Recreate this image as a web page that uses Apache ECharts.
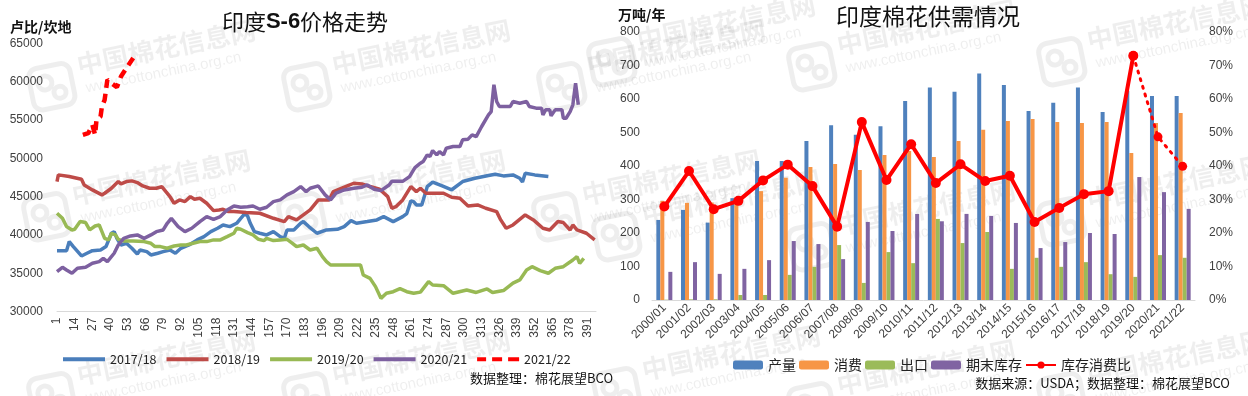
<!DOCTYPE html>
<html><head><meta charset="utf-8">
<script src="https://cdn.jsdelivr.net/npm/echarts@6/dist/echarts.min.js"></script>
<style>html,body{margin:0;padding:0;background:#fff}#c{width:1248px;height:396px}</style>
</head><body><div id="c"></div>
<script>
// ---------- left chart: India S-6 price (rupee/candy), [trading day, price] ----------
const dayCount = 397;
const days = Array.from({length: dayCount}, (_, i) => String(i + 1));
const s2017_18 = [[1,37960],[8,37960],[10,39140],[13,38490],[19,37270],[23,37620],[27,37960],[33,38050],[37,38490],[41,40230],[43,40440],[45,39570],[48,38700],[52,38920],[56,38270],[60,37530],[62,38050],[67,37830],[70,37400],[75,37620],[79,37830],[84,38050],[88,37620],[92,38270],[98,38700],[104,39360],[109,39790],[114,40440],[119,40880],[123,41310],[128,41100],[133,41530],[136,42180],[139,42800],[141,42500],[143,41530],[146,40440],[150,40230],[155,40010],[160,40440],[165,39790],[168,39570],[170,40660],[175,40660],[180,41530],[182,41750],[186,41100],[192,40230],[199,40660],[207,40750],[212,41100],[217,41880],[221,41530],[229,41750],[236,41970],[241,42400],[248,41750],[255,42400],[258,42800],[261,44450],[263,44360],[265,43920],[269,43920],[273,46300],[277,46900],[284,46400],[291,45900],[299,46970],[308,47400],[318,47750],[323,47920],[329,47710],[336,47840],[341,47400],[343,46900],[345,48060],[352,47840],[362,47620]];
const s2018_19 = [[1,46970],[2,47840],[10,47620],[19,47270],[21,46530],[27,45880],[34,45230],[36,45450],[41,46100],[46,46970],[48,46660],[52,46970],[56,47060],[60,46840],[64,46400],[69,46100],[74,46100],[78,46320],[81,45660],[84,45010],[87,44140],[91,44580],[95,44360],[99,45010],[102,44660],[106,44790],[111,44140],[116,43180],[120,43270],[123,43360],[127,43060],[131,43060],[140,42950],[150,42840],[160,42180],[168,41750],[171,42400],[177,41970],[187,43270],[193,44580],[201,44580],[204,45660],[213,46320],[219,46750],[225,46660],[231,46320],[238,45970],[244,45010],[247,43490],[250,43700],[255,44580],[261,46320],[265,45660],[268,46100],[272,45450],[285,45450],[291,44930],[297,44790],[303,43790],[310,43920],[316,43490],[324,43050],[327,41970],[331,40880],[336,41310],[345,42620],[351,41970],[358,40880],[363,40660],[369,41750],[373,41620],[378,40660],[380,41310],[383,40660],[390,40230],[396,39360]];
const s2019_20 = [[1,42840],[5,42180],[8,41100],[12,40660],[14,40750],[18,41750],[22,41620],[25,40660],[29,41180],[32,41310],[34,40440],[36,39570],[39,39360],[41,40230],[44,40010],[46,39440],[50,39230],[57,39230],[65,39140],[70,38920],[73,38490],[77,38490],[82,38270],[87,38570],[92,38700],[96,38700],[101,38920],[106,39140],[111,39140],[116,39360],[121,39360],[126,39790],[131,40230],[133,40880],[136,40750],[141,40310],[145,40010],[149,39440],[153,39270],[155,39570],[160,39270],[165,39360],[170,39440],[174,38920],[177,38490],[182,38700],[187,38050],[192,38270],[196,37180],[199,36530],[202,36090],[224,36090],[226,34790],[231,34350],[235,33270],[239,31740],[243,32400],[248,32610],[253,33000],[258,32610],[263,32400],[268,32550],[274,33920],[277,33480],[285,33390],[292,32400],[302,32830],[309,32510],[317,32970],[321,32510],[329,32760],[336,33720],[341,34140],[346,35440],[350,35870],[356,35350],[362,35010],[367,35660],[373,35870],[380,36740],[383,37180],[385,36310],[388,36960]];
const s2020_21 = [[1,35230],[5,35790],[8,35440],[12,35010],[16,35660],[22,35790],[27,36310],[32,36530],[35,36960],[38,36530],[43,37620],[46,38700],[50,39570],[55,39880],[60,40010],[65,39570],[70,40010],[74,40440],[79,40660],[82,41530],[85,42180],[90,41100],[95,40440],[100,40880],[106,41750],[111,42400],[116,42050],[121,42400],[126,43270],[131,43790],[136,43620],[141,43700],[145,43790],[150,43360],[155,43620],[160,44360],[165,44580],[170,45230],[175,45660],[180,46320],[184,45660],[187,46100],[193,46400],[198,45230],[202,44580],[206,45450],[212,45880],[219,46100],[225,46230],[229,46530],[234,45970],[239,45790],[245,46530],[247,47000],[255,47000],[260,47620],[264,48800],[268,49360],[270,49580],[273,50450],[275,50230],[277,51010],[280,50450],[282,50880],[285,50450],[287,51320],[292,51540],[297,51540],[299,52410],[303,52500],[306,53060],[309,52840],[313,54150],[318,55670],[320,56100],[322,59590],[324,57410],[326,56760],[334,56760],[336,57410],[341,57190],[346,57410],[348,56760],[353,56540],[357,56540],[358,55670],[360,56320],[363,56320],[364,55540],[367,56320],[372,56320],[373,55230],[375,55230],[378,56100],[380,56980],[382,59800],[384,56980]];
const s2021_22 = [[20,53060],[24,53280],[27,54360],[29,53060],[30,55020],[33,55450],[34,56750],[36,57630],[38,60240],[41,59800],[45,59280],[48,60670],[52,61760],[57,63070]];
const priceTicks = {min: 30000, max: 65000, step: 5000};

// ---------- right chart: India cotton supply & demand (10k tonnes / year) ----------
const seasons = ['2000/01','2001/02','2002/03','2003/04','2004/05','2005/06','2006/07','2007/08','2008/09','2009/10','2010/11','2011/12','2012/13','2013/14','2014/15','2015/16','2016/17','2017/18','2018/19','2019/20','2020/21','2021/22'];
const production  = [239,269,231,304,415,415,475,522,493,519,594,634,622,676,642,564,589,634,561,625,609,609];
const consumption = [296,290,291,295,325,365,397,406,388,433,445,427,475,508,534,540,531,528,531,439,528,558];
const exports_    = [1,2,2,15,15,75,99,164,51,143,110,242,170,203,93,126,99,113,77,69,134,126];
const endStock    = [84,113,78,93,119,176,167,122,233,206,257,235,257,251,230,155,173,200,197,367,322,272];
const stockRatio  = [27.9,38.5,27.1,29.6,35.7,40.4,34.0,21.9,53.1,35.8,46.5,34.9,40.5,35.5,37.1,23.3,27.5,31.6,32.5,72.9,48.7,39.9];
const forecastFrom = 19; // index of 2019/20: dotted afterwards

const cjk = '"Noto Sans CJK SC", sans-serif';
const toPts = arr => arr.map(p => [String(p[0]), p[1]]);

function watermark(x, y) {
  const c = 'rgba(0,0,0,0.065)';
  return {
    type: 'group', x: x, y: y, rotation: 0.2, silent: true, z: 0,
    children: [
      {type: 'rect', shape: {x: -50, y: -20, width: 42, height: 42, r: 9}, style: {fill: 'none', stroke: c, lineWidth: 5}},
      {type: 'circle', shape: {cx: -35, cy: -4, r: 7}, style: {fill: 'none', stroke: c, lineWidth: 5}},
      {type: 'circle', shape: {cx: -22, cy: 8, r: 6}, style: {fill: 'none', stroke: c, lineWidth: 5}},
      {type: 'text', style: {text: '中国棉花信息网', x: 0, y: -2, fontSize: 26, fontWeight: 'bold', fontFamily: cjk, fill: c, textVerticalAlign: 'bottom'}},
      {type: 'text', style: {text: 'www.cottonchina.org.cn', x: 4, y: 2, fontSize: 15, fontFamily: 'Liberation Sans, sans-serif', fill: c, textVerticalAlign: 'top'}}
    ]
  };
}
const wmPos = [[80,80],[335,80],[590,80],[75,210],[330,210],[585,210],[80,390],[335,390],
               [640,55],[840,60],[1090,55],[645,230],[840,240],[1090,215],[645,385],[840,400],[1090,390]];

const chart = echarts.init(document.getElementById('c'), null, {renderer: 'canvas'});
const axisTxt = {color: '#404040', fontSize: 12, fontFamily: 'Liberation Sans, Arial, sans-serif'};

const lineS = (name, data, color, dashed) => ({
  name, type: 'line', xAxisIndex: 0, yAxisIndex: 0, data: toPts(data), symbol: 'none',
  lineStyle: {width: dashed ? 4.5 : 3.5, color, type: dashed ? [9, 6] : 'solid'},
  itemStyle: {color}, z: 3
});
const barS = (name, data, color) => ({
  name, type: 'bar', xAxisIndex: 1, yAxisIndex: 1, data, barWidth: 4, barGap: '0%',
  itemStyle: {color}, z: 2
});
const solidIcon = 'path://M0,0H42V4H0Z';
const dashIcon = 'path://M0,0H9V4H0Z M15,0H25V4H15Z M31,0H42V4H31Z';

chart.setOption({
  animation: false,
  backgroundColor: '#fff',
  grid: [
    {left: 57, right: 652, top: 43.3, bottom: 84.3},
    {left: 652, right: 53, top: 32, bottom: 96}
  ],
  xAxis: [
    {gridIndex: 0, type: 'category', data: days, boundaryGap: false,
     axisLine: {lineStyle: {color: '#d9d9d9'}}, axisTick: {show: false},
     axisLabel: Object.assign({}, axisTxt, {interval: 12, rotate: 90, margin: 6})},
    {gridIndex: 1, type: 'category', data: seasons, boundaryGap: true,
     axisLine: {lineStyle: {color: '#d9d9d9'}}, axisTick: {show: false},
     axisLabel: Object.assign({}, axisTxt, {interval: 0, rotate: 45, margin: 6})}
  ],
  yAxis: [
    {gridIndex: 0, type: 'value', min: priceTicks.min, max: priceTicks.max, interval: priceTicks.step,
     splitLine: {show: false}, axisLine: {show: false}, axisTick: {show: false},
     axisLabel: Object.assign({}, axisTxt, {margin: 14, formatter: v => String(v)})},
    {gridIndex: 1, type: 'value', min: 0, max: 800, interval: 100,
     splitLine: {show: false}, axisLine: {show: false}, axisTick: {show: false},
     axisLabel: Object.assign({}, axisTxt, {margin: 12, formatter: v => String(v)})},
    {gridIndex: 1, type: 'value', position: 'right', min: 0, max: 80, interval: 10,
     splitLine: {show: false}, axisLine: {show: false}, axisTick: {show: false},
     axisLabel: Object.assign({}, axisTxt, {margin: 14, formatter: '{value}%'})}
  ],
  legend: [
    {data: [
       {name: '2017/18', icon: solidIcon}, {name: '2018/19', icon: solidIcon},
       {name: '2019/20', icon: solidIcon}, {name: '2020/21', icon: solidIcon},
       {name: '2021/22', icon: dashIcon}],
     left: 58, top: 348, itemWidth: 42, itemHeight: 4, itemGap: 10,
     textStyle: {fontSize: 12.5, color: '#222', fontFamily: cjk}},
    {data: ['产量','消费','出口','期末库存','库存消费比'], left: 728, top: 353,
     itemWidth: 30, itemHeight: 9, itemGap: 3,
     textStyle: {fontSize: 14, color: '#222', fontFamily: cjk}}
  ],
  graphic: wmPos.map(p => watermark(p[0], p[1])).concat([
    {type: 'text', z: 10, style: {text: '{a|印度}{b|S-6}{a|价格走势}', x: 305, y: 22, textAlign: 'center', textVerticalAlign: 'middle',
      rich: {a: {fontSize: 22, fontFamily: cjk, fill: '#111'}, b: {fontSize: 22, fontWeight: 'bold', fontFamily: 'Liberation Sans, Arial, sans-serif', fill: '#111'}}}},
    {type: 'text', z: 10, style: {text: '印度棉花供需情况', x: 928, y: 16, textAlign: 'center', textVerticalAlign: 'middle', fontSize: 23, fontFamily: cjk, fill: '#111'}},
    {type: 'text', z: 10, style: {text: '卢比/坎地', x: 10, y: 27, textVerticalAlign: 'middle', fontSize: 14, fontWeight: 'bold', fontFamily: cjk, fill: '#111'}},
    {type: 'text', z: 10, style: {text: '万吨/年', x: 618, y: 15, textVerticalAlign: 'middle', fontSize: 14, fontWeight: 'bold', fontFamily: cjk, fill: '#111'}},
    {type: 'text', z: 10, style: {text: '数据整理：棉花展望BCO', x: 470, y: 378, textVerticalAlign: 'middle', fontSize: 13, fontFamily: cjk, fill: '#111'}},
    {type: 'text', z: 10, style: {text: '数据来源：USDA；数据整理：棉花展望BCO', x: 1230, y: 383, textAlign: 'right', textVerticalAlign: 'middle', fontSize: 13, fontFamily: cjk, fill: '#111'}}
  ]),
  series: [
    lineS('2017/18', s2017_18, '#4A7EBB'),
    lineS('2018/19', s2018_19, '#BE4B48'),
    lineS('2019/20', s2019_20, '#98B954'),
    lineS('2020/21', s2020_21, '#7D60A0'),
    lineS('2021/22', s2021_22, '#FF0000', true),
    barS('产量', production, '#4F81BD'),
    barS('消费', consumption, '#F79646'),
    barS('出口', exports_, '#9BBB59'),
    barS('期末库存', endStock, '#8064A2'),
    {name: '库存消费比', type: 'line', xAxisIndex: 1, yAxisIndex: 2, z: 5,
     data: stockRatio.map((v, i) => i <= forecastFrom ? v : null),
     symbol: 'circle', symbolSize: 10, lineStyle: {width: 4, color: '#FF0000'}, itemStyle: {color: '#FF0000'}},
    {name: '库存消费比预测', type: 'line', xAxisIndex: 1, yAxisIndex: 2, z: 5,
     data: stockRatio.map((v, i) => i >= forecastFrom ? v : null),
     symbol: 'circle', symbolSize: 9, lineStyle: {width: 3, color: '#FF0000', type: [2, 6], cap: 'round'}, itemStyle: {color: '#FF0000'}}
  ]
});
</script></body></html>
